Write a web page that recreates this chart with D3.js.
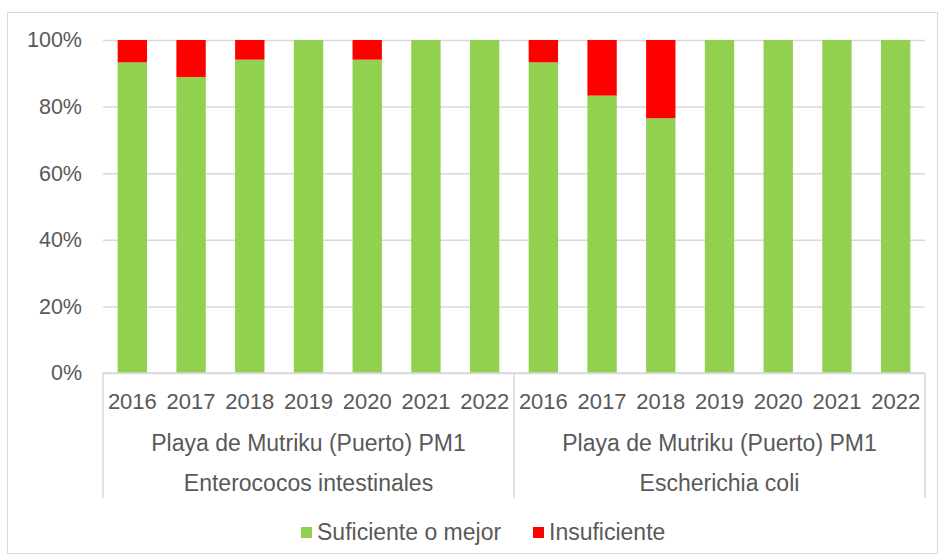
<!DOCTYPE html>
<html>
<head>
<meta charset="utf-8">
<script src="https://cdn.jsdelivr.net/npm/d3@7"></script>
<style>
  body { margin: 0; background: #fff; }
  svg text { font-family: "Liberation Sans", Arial, sans-serif; fill: #595959; }
</style>
</head>
<body>
<div id="chart"></div>
<script>
// chart values
const parameters = ["Enterococos intestinales", "Escherichia coli"];
const sites = ["Playa de Mutriku (Puerto) PM1", "Playa de Mutriku (Puerto) PM1"];
const years = ["2016", "2017", "2018", "2019", "2020", "2021", "2022"];
const suficiente = [
  [93.3, 88.9, 94.1, 100, 94.1, 100, 100],
  [93.3, 83.3, 76.5, 100, 100, 100, 100]
];
const insuficiente = [
  [6.7, 11.1, 5.9, 0, 5.9, 0, 0],
  [6.7, 16.7, 23.5, 0, 0, 0, 0]
];
const seriesNames = ["Suficiente o mejor", "Insuficiente"];
const seriesColors = ["#92D050", "#FF0000"];
const yTicks = [0, 20, 40, 60, 80, 100];

const width = 940, height = 560;
const plot = { left: 103, right: 925, top: 40, bottom: 373 };
const tickFont = 21.5;
const labelFont = 23;
const gridColor = "#d9d9d9";

// flat table for the stack
var rows = [];
parameters.forEach(function (p, i) {
  years.forEach(function (y, j) {
    rows.push({ key: i + "|" + y, group: i, year: y, suf: suficiente[i][j], ins: insuficiente[i][j] });
  });
});

var svg = d3.select("#chart").append("svg")
  .attr("width", width)
  .attr("height", height);

// outer frame
svg.append("rect")
  .attr("x", 7.5).attr("y", 12.5)
  .attr("width", 930).attr("height", 541)
  .attr("fill", "#fff")
  .attr("stroke", gridColor);

var x = d3.scaleBand()
  .domain(rows.map(function (d) { return d.key; }))
  .range([plot.left, plot.right])
  .paddingInner(0.5)
  .paddingOuter(0.25);

var y = d3.scaleLinear()
  .domain([0, 100])
  .range([plot.bottom, plot.top]);

// gridlines + y labels
var yAxis = svg.append("g")
  .attr("transform", "translate(" + plot.left + ",0)")
  .call(d3.axisLeft(y)
    .tickValues(yTicks)
    .tickSize(-(plot.right - plot.left))
    .tickPadding(21)
    .tickFormat(function (d) { return d + "%"; }));
yAxis.select(".domain").remove();
yAxis.selectAll(".tick line").attr("stroke", gridColor).attr("stroke-width", 1.5);
yAxis.selectAll(".tick text")
  .style("font-size", tickFont + "px")
  .attr("fill", "#595959");

// stacked bars
var stack = d3.stack().keys(["suf", "ins"]);
var layers = stack(rows);

svg.append("g").selectAll("g")
  .data(layers)
  .enter()
  .append("g")
  .attr("fill", function (d, i) { return seriesColors[i]; })
  .selectAll("rect")
  .data(function (d) { return d; })
  .enter()
  .append("rect")
  .attr("x", function (d) { return x(d.data.key); })
  .attr("width", x.bandwidth())
  .attr("y", function (d) { return y(d[1]); })
  .attr("height", function (d) { return y(d[0]) - y(d[1]); });

// bottom axis line
svg.append("line")
  .attr("x1", plot.left).attr("x2", plot.right)
  .attr("y1", plot.bottom).attr("y2", plot.bottom)
  .attr("stroke", gridColor).attr("stroke-width", 1.5);

// year labels
var xAxis = svg.append("g")
  .attr("transform", "translate(0," + plot.bottom + ")")
  .call(d3.axisBottom(x)
    .tickSize(0)
    .tickPadding(20)
    .tickFormat(function (k) { return k.split("|")[1]; }));
xAxis.select(".domain").remove();
xAxis.selectAll(".tick text")
  .style("font-size", "22px")
  .attr("fill", "#595959");

// group dividers and labels
var groupWidth = (plot.right - plot.left) / parameters.length;
var dividers = d3.range(parameters.length + 1).map(function (i) { return plot.left + i * groupWidth; });
svg.append("g").selectAll("line")
  .data(dividers)
  .enter()
  .append("line")
  .attr("x1", function (d) { return d; }).attr("x2", function (d) { return d; })
  .attr("y1", plot.bottom).attr("y2", 498)
  .attr("stroke", gridColor).attr("stroke-width", 1.5);

var groupLabels = svg.append("g");
parameters.forEach(function (p, i) {
  var cx = plot.left + (i + 0.5) * groupWidth;
  groupLabels.append("text")
    .attr("x", cx).attr("y", 451)
    .attr("text-anchor", "middle")
    .style("font-size", labelFont + "px")
    .text(sites[i]);
  groupLabels.append("text")
    .attr("x", cx).attr("y", 491)
    .attr("text-anchor", "middle")
    .style("font-size", labelFont + "px")
    .text(p);
});

// legend
var legendX = [301, 533];
var legend = svg.append("g");
seriesNames.forEach(function (name, i) {
  legend.append("rect")
    .attr("x", legendX[i]).attr("y", 527)
    .attr("width", 11).attr("height", 11)
    .attr("fill", seriesColors[i]);
  legend.append("text")
    .attr("x", legendX[i] + 16).attr("y", 540)
    .style("font-size", labelFont + "px")
    .text(name);
});
</script>
</body>
</html>
